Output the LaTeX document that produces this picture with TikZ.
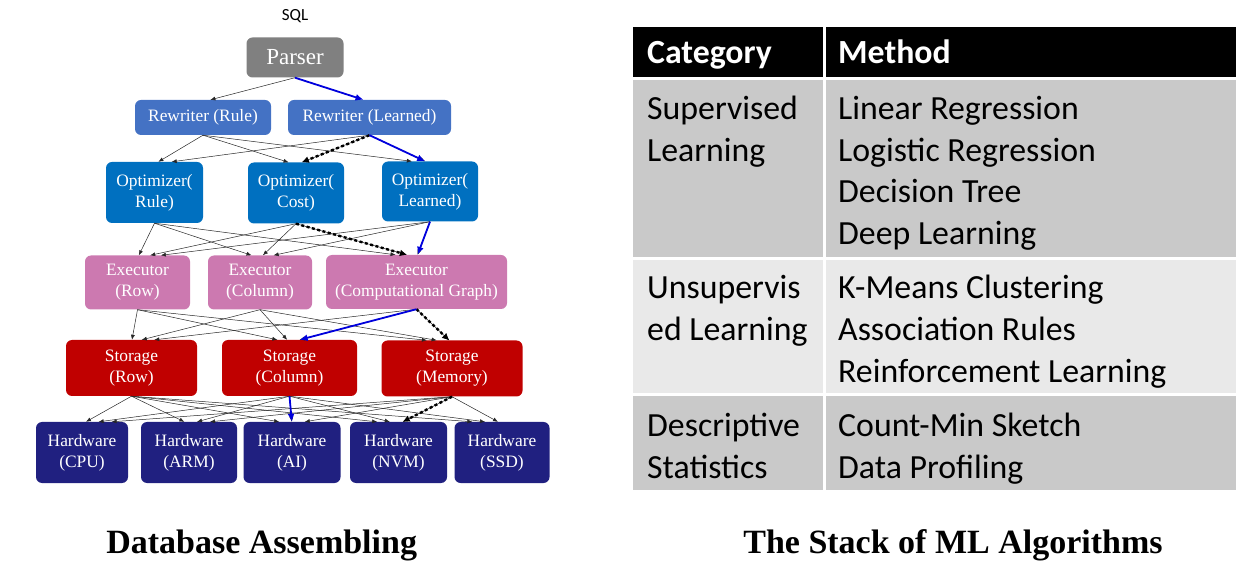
\documentclass[tikz,border=0pt]{standalone}
\usepackage{fontspec}
\setmainfont{Liberation Serif}
\newfontfamily\calibri{Carlito}
\usetikzlibrary{arrows.meta,positioning,calc}
\definecolor{parsergray}{RGB}{128,128,128}
\definecolor{rewblue}{RGB}{68,114,196}
\definecolor{optblue}{RGB}{0,112,192}
\definecolor{execpink}{RGB}{204,121,176}
\definecolor{storred}{RGB}{192,0,0}
\definecolor{hwnavy}{RGB}{32,32,128}
\definecolor{pathblue}{RGB}{0,0,220}
\definecolor{rowdark}{RGB}{201,201,201}
\definecolor{rowlight}{RGB}{233,233,233}
% arrow from the bottom of #2 to the top of #3, nudged towards #2
\newcommand\linkto[3]{\draw[#1] (#2.south) -- ($(#3.north)!0.08!(#2.south |- #3.north)$);}

\begin{document}
\begin{tikzpicture}[x=1pt,y=-1pt,
  layer/.style={rounded corners=6pt,text=white,align=center,inner sep=0pt,font=\fontsize{17.4}{21}\selectfont},
  link/.style={-{Latex[length=5pt,width=4pt]},line width=0.5pt,black!85},
  best/.style={-{Latex[length=8pt,width=7pt]},line width=1.8pt,pathblue},
  alt/.style={-{Latex[length=7pt,width=7pt]},line width=2.4pt,dash pattern=on 3pt off 2.5pt,black},
  cell/.style={anchor=base west,inner sep=0pt,font=\calibri\fontsize{33.8}{40}\selectfont},
  caption/.style={anchor=base,inner sep=0pt,font=\bfseries\fontsize{34}{40}\selectfont}]
  \useasboundingbox (0,0) rectangle (1254,577);

  % database stack
  \node[font=\calibri\fontsize{17}{19}\selectfont] (sql) at (295,16) {SQL};
  \node[layer,fill=parsergray,minimum width=97pt,minimum height=40pt,font=\fontsize{23}{26}\selectfont] (parser) at (295,57.5) {Parser};

  \node[layer,fill=rewblue,minimum width=136pt,minimum height=35pt] (rwR) at (203,117.5) {Rewriter (Rule)};
  \node[layer,fill=rewblue,minimum width=163pt,minimum height=35pt] (rwL) at (369.5,117.5) {Rewriter (Learned)};

  \node[layer,fill=optblue,minimum width=97pt,minimum height=61pt] (optR) at (154.5,192.5) {Optimizer(\\Rule)};
  \node[layer,fill=optblue,minimum width=96pt,minimum height=61pt] (optC) at (296,193) {Optimizer(\\Cost)};
  \node[layer,fill=optblue,minimum width=96pt,minimum height=60pt] (optL) at (430,191.5) {Optimizer(\\Learned)};

  \node[layer,fill=execpink,minimum width=105pt,minimum height=54pt] (exR) at (137.5,282.5) {Executor\\(Row)};
  \node[layer,fill=execpink,minimum width=104pt,minimum height=54pt] (exC) at (260,282.5) {Executor\\(Column)};
  \node[layer,fill=execpink,minimum width=181pt,minimum height=54pt] (exG) at (416.5,282) {Executor\\(Computational Graph)};

  \node[layer,fill=storred,minimum width=131pt,minimum height=56pt] (stR) at (131.5,368) {Storage\\(Row)};
  \node[layer,fill=storred,minimum width=135pt,minimum height=56pt] (stC) at (289.5,368) {Storage\\(Column)};
  \node[layer,fill=storred,minimum width=141pt,minimum height=56pt] (stM) at (452,368.5) {Storage\\(Memory)};

  \node[layer,fill=hwnavy,minimum width=92pt,minimum height=61pt] (hwC) at (82,452.5) {Hardware\\(CPU)};
  \node[layer,fill=hwnavy,minimum width=96pt,minimum height=61pt] (hwA) at (189,452.5) {Hardware\\(ARM)};
  \node[layer,fill=hwnavy,minimum width=97pt,minimum height=61pt] (hwI) at (292,452.5) {Hardware\\(AI)};
  \node[layer,fill=hwnavy,minimum width=97pt,minimum height=61pt] (hwN) at (398.5,452.5) {Hardware\\(NVM)};
  \node[layer,fill=hwnavy,minimum width=95pt,minimum height=61pt] (hwS) at (502,452.5) {Hardware\\(SSD)};

  % all choices
  \linkto{link}{parser}{rwR}
  \foreach \s in {rwR,rwL} \foreach \t in {optR,optC,optL} {\linkto{link}{\s}{\t}}
  \foreach \s in {optR,optC,optL} \foreach \t in {exR,exC,exG} {\linkto{link}{\s}{\t}}
  \foreach \s in {exR,exC,exG} \foreach \t in {stR,stC,stM} {\linkto{link}{\s}{\t}}
  \foreach \s in {stR,stC,stM} \foreach \t in {hwC,hwA,hwI,hwN,hwS} {\linkto{link}{\s}{\t}}

  % dotted alternative and blue chosen path
  \linkto{alt}{rwL}{optC}
  \linkto{alt}{optC}{exG}
  \linkto{alt}{exG}{stM}
  \linkto{alt}{stM}{hwN}
  \linkto{best}{parser}{rwL}
  \linkto{best}{rwL}{optL}
  \linkto{best}{optL}{exG}
  \linkto{best}{exG}{stC}
  \linkto{best}{stC}{hwI}

  % ML table
  \fill[black] (633,27) rectangle (823,77);
  \fill[black] (826,27) rectangle (1236,77);
  \fill[rowdark] (633,80) rectangle (823,257);
  \fill[rowdark] (826,80) rectangle (1236,257);
  \fill[rowlight] (633,260) rectangle (823,393);
  \fill[rowlight] (826,260) rectangle (1236,393);
  \fill[rowdark] (633,396) rectangle (823,490);
  \fill[rowdark] (826,396) rectangle (1236,490);

  \node[cell,text=white,font=\calibri\bfseries\fontsize{33.8}{40}\selectfont] (hcat) at (647,64) {Category};
  \node[cell,text=white,font=\calibri\bfseries\fontsize{33.8}{40}\selectfont] (hmeth) at (838,64) {Method};

  \foreach \txt/\yy [count=\i] in {Supervised/119.5,Learning/162,Unsupervis/299,ed Learning/341,Descriptive/436.5,Statistics/478.5}
    \node[cell] (cat\i) at (647,\yy) {\txt};
  \foreach \txt/\yy [count=\i] in {Linear Regression/119.5,Logistic Regression/162,Decision Tree/203,Deep Learning/244.5,K-Means Clustering/299,Association Rules/341,Reinforcement Learning/382.5,Count-Min Sketch/436.5,Data Profiling/478.5}
    \node[cell] (meth\i) at (838,\yy) {\txt};

  % captions
  \node[caption] (capL) at (261.7,553) {Database Assembling};
  \node[caption] (capR) at (953,553) {The Stack of ML Algorithms};
\end{tikzpicture}
\end{document}
